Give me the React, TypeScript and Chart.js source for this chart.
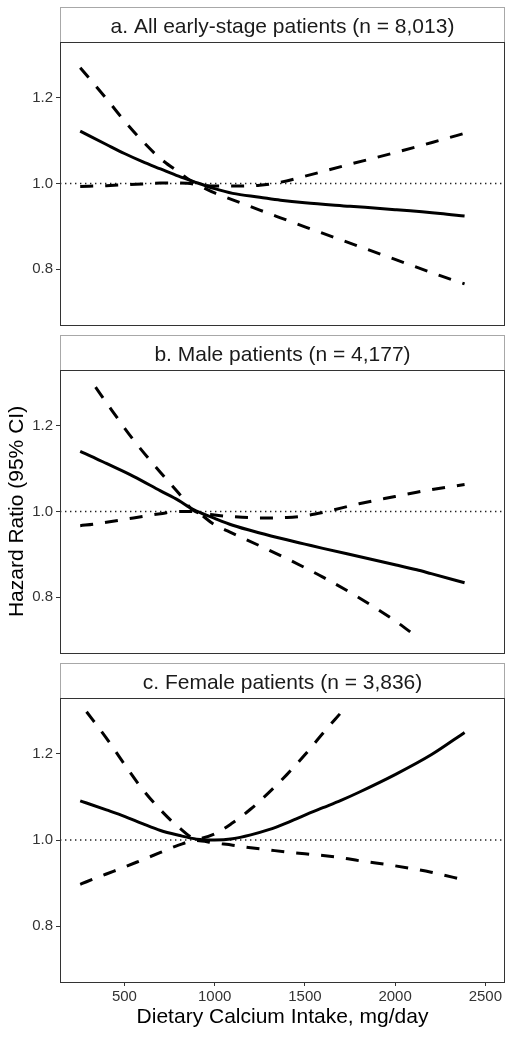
import React, { useEffect, useRef } from 'react';
import { Chart, registerables } from 'chart.js';

Chart.register(...registerables);

const FONT = '"Liberation Sans", Arial, Helvetica, sans-serif';

// ---- axes ----
const X_MIN = 143;
const X_MAX = 2609;
const X_TICKS = [500, 1000, 1500, 2000, 2500];
const Y_MIN = 0.67;
const Y_MAX = 1.33;
const Y_TICKS = [0.8, 1.0, 1.2];
const REF_HR = 1.0;

const Y_TITLE = 'Hazard Ratio (95% CI)';
const X_TITLE = 'Dietary Calcium Intake, mg/day';

// ---- panel a ----
const A_TITLE = 'a. All early-stage patients (n = 8,013)';
const A_X = [255, 400, 500, 600, 700, 800, 880, 1000, 1100, 1250, 1365, 1500, 1750, 2000, 2250, 2385];
const A_EST = [1.122, 1.091, 1.070, 1.051, 1.034, 1.017, 1.005, 0.988, 0.977, 0.968, 0.961, 0.955, 0.947, 0.939, 0.930, 0.924];
const A_UPPER = [1.270, 1.198, 1.146, 1.099, 1.058, 1.027, 1.004, 0.994, 0.994, 0.996, 1.003, 1.017, 1.045, 1.072, 1.101, 1.117];
const A_LOWER = [0.993, 0.995, 0.997, 0.999, 1.001, 1.001, 0.999, 0.978, 0.962, 0.938, 0.920, 0.899, 0.861, 0.823, 0.785, 0.766];

// ---- panel b ----
const B_TITLE = 'b. Male patients (n = 4,177)';
const B_X = [255, 340, 400, 550, 700, 800, 880, 1000, 1100, 1250, 1400, 1500, 1600, 1800, 2000, 2120, 2200, 2385];
const B_EST = [1.140, 1.124, 1.112, 1.082, 1.048, 1.026, 1.005, 0.984, 0.968, 0.950, 0.934, 0.924, 0.914, 0.895, 0.876, 0.864, 0.855, 0.834];
const B_UPPER = [null, 1.290, 1.254, 1.167, 1.091, 1.043, 1.003, 0.992, 0.988, 0.985, 0.986, 0.990, 0.998, 1.018, 1.035, 1.045, 1.051, 1.063];
const B_LOWER = [0.967, 0.971, 0.975, 0.985, 0.995, 1.000, 1.000, 0.969, 0.949, 0.920, 0.890, 0.869, 0.847, 0.799, 0.745, 0.708, null, null];

// ---- panel c ----
const C_TITLE = 'c. Female patients (n = 3,836)';
const C_X = [255, 290, 400, 500, 600, 700, 800, 900, 1000, 1100, 1200, 1300, 1400, 1500, 1600, 1700, 1800, 2000, 2200, 2385];
const C_EST = [1.091, 1.086, 1.070, 1.055, 1.038, 1.022, 1.011, 1.002, 1.000, 1.003, 1.012, 1.024, 1.040, 1.058, 1.075, 1.092, 1.111, 1.152, 1.198, 1.250];
const C_UPPER = [null, 1.298, 1.237, 1.176, 1.118, 1.070, 1.030, 1.003, 1.014, 1.040, 1.072, 1.110, 1.152, 1.198, 1.248, 1.296, null, null, null, null];
const C_LOWER = [0.897, 0.903, 0.921, 0.937, 0.954, 0.971, 0.988, 0.999, 0.993, 0.988, 0.982, 0.977, 0.972, 0.968, 0.964, 0.959, 0.952, 0.940, 0.925, 0.907];

type PanelSpec = {
  title: string;
  xs: number[];
  est: (number | null)[];
  upper: (number | null)[];
  lower: (number | null)[];
  top: number;
  height: number;
  padTop: number;
  padBottom: number;
  showX: boolean;
  showYTitle: boolean;
};

const PANELS: PanelSpec[] = [
  { title: A_TITLE, xs: A_X, est: A_EST, upper: A_UPPER, lower: A_LOWER, top: 0, height: 330, padTop: 42, padBottom: 5, showX: false, showYTitle: false },
  { title: B_TITLE, xs: B_X, est: B_EST, upper: B_UPPER, lower: B_LOWER, top: 330, height: 330, padTop: 40, padBottom: 7, showX: false, showYTitle: true },
  { title: C_TITLE, xs: C_X, est: C_EST, upper: C_UPPER, lower: C_LOWER, top: 660, height: 378, padTop: 38, padBottom: 0, showX: true, showYTitle: false },
];

const pts = (xs: number[], ys: (number | null)[]) => xs.map((x, i) => ({ x, y: ys[i] }));

const stripPlugin = {
  id: 'facetStrip',
  afterDraw(chart: any, _args: any, opts: any) {
    const { ctx, chartArea: a } = chart;
    const left = Math.round(a.left) + 0.5;
    const right = Math.round(a.right) - 0.5;
    const top = Math.round(a.top) + 0.5;
    const bottom = Math.round(a.bottom) + 0.5;
    const sTop = top - opts.height;
    ctx.save();
    ctx.lineWidth = 1;
    ctx.strokeStyle = '#a8a8a8';
    ctx.strokeRect(left, sTop, right - left, top - sTop);
    ctx.strokeStyle = '#333333';
    ctx.strokeRect(left, top, right - left, bottom - top);
    ctx.fillStyle = '#1a1a1a';
    ctx.font = `21px ${FONT}`;
    ctx.textAlign = 'center';
    ctx.textBaseline = 'alphabetic';
    ctx.fillText(opts.text, (a.left + a.right) / 2, a.top - 9.5);
    ctx.restore();
  },
};

function buildConfig(p: PanelSpec): any {
  const line = (data: any, dashed: boolean) => ({
    data,
    borderColor: '#000000',
    borderWidth: 3,
    borderDash: dashed ? [13, 12] : [],
    borderCapStyle: 'butt',
    pointRadius: 0,
    fill: false,
    spanGaps: false,
    cubicInterpolationMode: 'monotone',
  });
  return {
    type: 'line',
    data: {
      datasets: [
        line(pts(p.xs, p.est), false),
        line(pts(p.xs, p.upper), true),
        line(pts(p.xs, p.lower), true),
        {
          data: [
            { x: X_MIN, y: REF_HR },
            { x: X_MAX, y: REF_HR },
          ],
          borderColor: '#222222',
          borderWidth: 1.4,
          borderDash: [1.4, 3.6],
          pointRadius: 0,
          fill: false,
        },
      ],
    },
    options: {
      responsive: false,
      animation: false,
      layout: { padding: { top: p.padTop, right: 7, bottom: p.padBottom, left: 0 } },
      plugins: {
        legend: { display: false },
        tooltip: { enabled: false },
        facetStrip: { text: p.title, height: 35 },
      },
      scales: {
        x: {
          type: 'linear',
          min: X_MIN,
          max: X_MAX,
          display: p.showX,
          afterBuildTicks: (s: any) => {
            s.ticks = X_TICKS.map((v) => ({ value: v }));
          },
          afterFit: (s: any) => {
            s.height = p.showX ? 56 : 0;
            s.paddingLeft = 0;
            s.paddingRight = 0;
          },
          ticks: {
            color: '#333333',
            font: { family: FONT, size: 15 },
            padding: 2,
            maxRotation: 0,
            autoSkip: false,
            callback: (v: any) => String(v),
          },
          grid: { drawOnChartArea: false, drawTicks: true, tickLength: 4, color: '#333333' },
          border: { display: false },
          title: {
            display: true,
            text: X_TITLE,
            color: '#000000',
            font: { family: FONT, size: 21 },
            padding: { top: 0, bottom: 8 },
          },
        },
        y: {
          type: 'linear',
          min: Y_MIN,
          max: Y_MAX,
          afterBuildTicks: (s: any) => {
            s.ticks = Y_TICKS.map((v) => ({ value: v }));
          },
          afterFit: (s: any) => {
            s.width = 60;
            s.paddingTop = 0;
            s.paddingBottom = 0;
          },
          ticks: {
            color: '#333333',
            font: { family: FONT, size: 15 },
            padding: 3,
            callback: (v: any) => Number(v).toFixed(1),
          },
          grid: { drawOnChartArea: false, drawTicks: true, tickLength: 4, color: '#333333' },
          border: { display: false },
          title: {
            display: p.showYTitle,
            text: Y_TITLE,
            color: '#000000',
            font: { family: FONT, size: 21 },
            padding: { top: 5, bottom: 0 },
          },
        },
      },
    },
    plugins: [stripPlugin],
  };
}

function Panel({ spec }: { spec: PanelSpec }) {
  const ref = useRef<HTMLCanvasElement>(null);
  useEffect(() => {
    const chart = new Chart(ref.current as HTMLCanvasElement, buildConfig(spec));
    return () => chart.destroy();
  }, [spec]);
  return (
    <div style={{ position: 'absolute', left: 0, top: spec.top, width: 512, height: spec.height }}>
      <canvas ref={ref} width={512} height={spec.height} style={{ display: 'block' }} />
    </div>
  );
}

export default function App() {
  return (
    <div style={{ position: 'absolute', left: 0, top: 0, width: 512, height: 1038, background: '#ffffff' }}>
      {PANELS.map((p) => (
        <Panel key={p.title} spec={p} />
      ))}
    </div>
  );
}
